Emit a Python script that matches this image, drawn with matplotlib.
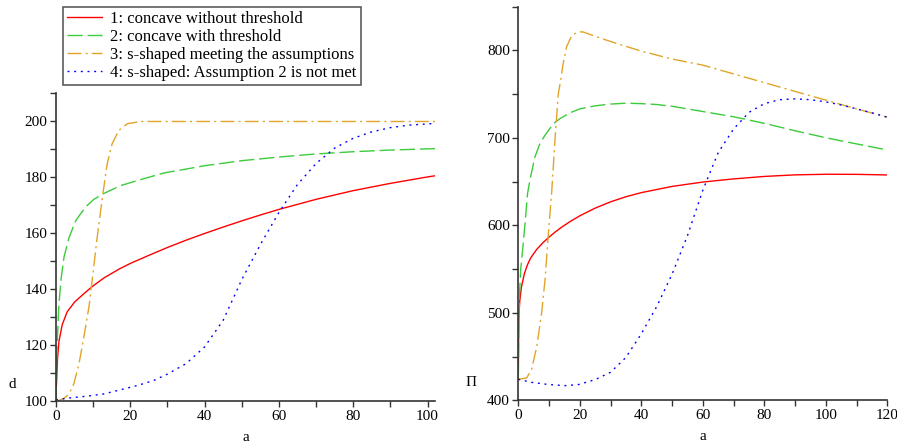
import matplotlib
matplotlib.use("Agg")
import matplotlib.pyplot as plt
from matplotlib.ticker import MultipleLocator

plt.rcParams['font.family'] = ['Liberation Serif', 'DejaVu Serif']
plt.rcParams['lines.scale_dashes'] = False

labels = ["1: concave without threshold", "2: concave with threshold",
          "3: s-shaped meeting the assumptions", "4: s-shaped: Assumption 2 is not met"]
colors = ["#ff0000", "#3ccc3c", "#e0a528", "#0000ff"]
styles = ["-", (0, (11, 3.5)), (0, (10, 3, 1.5, 3)), (0, (1.4, 3.4))]

# Left panel: d vs a
d1_a = [0, 0.05, 0.2, 0.4, 0.8, 1.7, 3, 5, 7.5, 10, 13, 17, 20, 25, 30, 35, 40, 45, 50, 55, 60, 70, 80, 90, 100, 102]
d1_v = [100, 104, 108, 115, 121.5, 127.5, 132, 135.5, 138.5, 141.3, 144.2, 147.3, 149.3, 152.2, 155, 157.6, 160, 162.3, 164.5, 166.6, 168.6, 172.2, 175.3, 177.9, 180.2, 180.6]
d2_a = [0, 0.1, 0.36, 0.8, 1.4, 2.15, 3.5, 5.3, 6.6, 8.4, 10.2, 12.9, 17.4, 21.9, 29, 35, 40, 50, 60, 70, 80, 90, 102]
d2_v = [100, 112, 122, 135, 144, 151.5, 158.5, 164.5, 167, 170, 172.2, 174.3, 177.1, 178.9, 181.6, 183, 184.2, 186, 187.3, 188.4, 189.2, 189.8, 190.3]
d3_a = [0, 2, 3, 4, 4.8, 6.2, 7.5, 8.9, 9.8, 11.1, 12.5, 13.8, 15.1, 16.9, 19.2, 22.8, 30, 50, 70, 90, 102]
d3_v = [100, 101, 102, 104, 106.3, 113.5, 123, 134, 144, 158.7, 173, 185, 192, 196.8, 199.2, 200, 200, 200, 200, 200, 200]
d4_a = [0, 3.9, 8.4, 12.9, 17.4, 21.9, 26.3, 30, 35, 40, 45, 50, 55, 60, 65, 70, 75, 80, 85, 90, 95, 102]
d4_v = [100.6, 101.3, 101.9, 102.7, 104.2, 105.7, 107.5, 109.8, 113.5, 119.5, 129, 143.5, 156, 167.5, 177.5, 185, 190.5, 194, 196.3, 197.8, 198.7, 199.3]

# Right panel: Pi vs a
p1_a = [0, 0.1, 0.2, 0.5, 1, 2, 3, 4, 6, 8, 10, 12, 14, 17, 20, 25, 30, 35, 40, 50, 60, 70, 80, 90, 100, 110, 120]
p1_v = [425, 470, 497, 514, 529, 545, 555, 562.5, 572.5, 580, 586.5, 592.3, 597.6, 604.6, 610.8, 619.6, 626.8, 632.6, 637.3, 644.4, 649.4, 653, 655.8, 657.6, 658.3, 658.2, 657.5]
p2_a = [0, 0.2, 0.4, 0.8, 1.3, 2.2, 3, 3.8, 5.4, 7, 8.7, 11.4, 13.6, 16.8, 20, 25, 30, 35, 40, 45, 50, 60, 70, 80, 90, 100, 110, 120]
p2_v = [425, 490, 522, 550, 568, 602, 636, 652, 678, 693, 703, 716, 722, 728.5, 733, 736.5, 738.5, 739.5, 739, 738, 736, 730, 724, 716.5, 708, 700, 693, 686]
p3_a = [0, 2.7, 4.3, 6, 7.6, 8.7, 9.8, 10.9, 12, 13, 13.8, 14.5, 15.7, 17, 18, 20, 21, 25, 30, 40, 50, 60, 70, 80, 90, 100, 110, 120]
p3_v = [424, 425.5, 435, 461, 500, 538, 591, 640, 701, 750, 766, 783, 804, 814, 818.5, 821, 821, 816, 810, 799, 790, 783, 773, 763, 753, 743, 733, 723.5]
p4_a = [0, 4.3, 9.8, 15.2, 19.6, 25, 30, 35, 40, 45, 50, 55, 60, 65, 70, 75, 80, 85, 90, 95, 100, 105, 110, 115, 120]
p4_v = [424, 420.5, 418, 416.7, 418, 423.6, 432, 449, 476, 507, 544, 588, 640, 683, 710, 729, 739, 743.5, 744.5, 743.5, 741, 737.5, 733, 728.5, 723.5]

fig = plt.figure(figsize=(8.97, 4.46), dpi=100)
axL = fig.add_axes([0.0624, 0.0998, 0.4225, 0.6906])
axR = fig.add_axes([0.5778, 0.1025, 0.4114, 0.8829])

left_series = [(d1_a, d1_v), (d2_a, d2_v), (d3_a, d3_v), (d4_a, d4_v)]
right_series = [(p1_a, p1_v), (p2_a, p2_v), (p3_a, p3_v), (p4_a, p4_v)]

handles = []
for i, (a, v) in enumerate(left_series):
    h, = axL.plot(a, v, color=colors[i], linestyle=styles[i], lw=1.0)
    handles.append(h)
for i, (a, v) in enumerate(right_series):
    axR.plot(a, v, color=colors[i], linestyle=styles[i], lw=1.0)

axL.set_xlim(0, 102)
axL.set_ylim(100, 210)
axR.set_xlim(0, 120)
axR.set_ylim(400, 850)

for ax in (axL, axR):
    ax.spines['top'].set_visible(False)
    ax.spines['right'].set_visible(False)
    for s in ('left', 'bottom'):
        ax.spines[s].set_linewidth(1.2)
        ax.spines[s].set_color('#333333')
    ax.xaxis.set_major_locator(MultipleLocator(20))
    ax.xaxis.set_minor_locator(MultipleLocator(10))
    ax.tick_params(which='both', direction='out', length=4, width=1.0, color='#333333',
                   labelsize=11, pad=2)
    ax.set_xlabel('a', fontsize=11, labelpad=6)

axL.yaxis.set_major_locator(MultipleLocator(20))
axL.yaxis.set_minor_locator(MultipleLocator(10))
axR.yaxis.set_major_locator(MultipleLocator(100))
axR.yaxis.set_minor_locator(MultipleLocator(50))

fig.text(12 / 897, 1 - 385 / 446, 'd', fontsize=11, ha='center', va='center')
fig.text(471 / 897, 1 - 382 / 446, 'Π', fontsize=11, ha='center', va='center')

leg = fig.legend(handles, labels, loc='upper left', bbox_to_anchor=(63 / 897, 1 - 7 / 446),
                 fontsize=12, frameon=True, fancybox=False, borderpad=0.25,
                 labelspacing=0.12, handlelength=2.1, handletextpad=0.5, borderaxespad=0)
leg.get_frame().set_edgecolor('#333333')
leg.get_frame().set_linewidth(1.2)

fig.savefig('out.png', dpi=100)
